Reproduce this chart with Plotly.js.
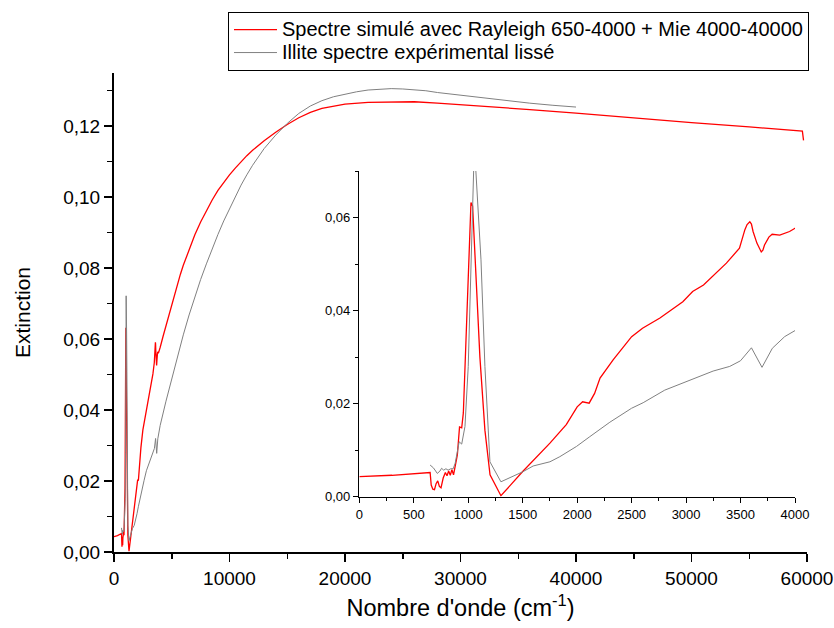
<!DOCTYPE html>
<html>
<head>
<meta charset="utf-8">
<script src="https://cdn.plot.ly/plotly-3.0.1.min.js"></script>
<style>html,body{margin:0;padding:0;background:#fff;}#chart{width:834px;height:628px;}</style>
</head>
<body>
<div id="chart"></div>
<script>
// Simulated spectrum (red)
const simX = [0, 300, 650, 660, 675, 690, 705, 720, 735, 750, 770, 790, 805, 820, 835, 850, 865, 880, 900, 920, 940, 955, 970, 985, 1000, 1015, 1025, 1040, 1060, 1077, 1107, 1153, 1200, 1300, 1500, 1750, 1900, 2000, 2050, 2110, 2160, 2210, 2330, 2500, 2600, 2760, 2970, 3060, 3160, 3370, 3490, 3540, 3560, 3585, 3600, 3615, 3650, 3690, 3705, 3720, 3760, 3790, 3860, 3950, 4000,
  4250, 4500, 4750, 5000, 5250, 5500, 5750, 6000, 6500, 7000, 7500, 8000, 8500, 9000, 9500, 10000, 10500, 11000, 11500, 12000, 13000, 14000, 15000, 16000, 17000, 18000, 19000, 20000, 22000, 24000, 26000, 28000, 30000, 33000, 36000, 40000, 45000, 50000, 55000, 59600, 59700];
const simY = [0.0043, 0.0046, 0.0052, 0.0025, 0.0016, 0.0015, 0.0028, 0.0034, 0.0022, 0.0019, 0.0040, 0.0052, 0.0045, 0.0055, 0.0046, 0.0058, 0.0047, 0.0065, 0.0090, 0.0150, 0.0148, 0.0180, 0.0280, 0.0380, 0.0500, 0.0600, 0.0632, 0.0625, 0.0520, 0.0437, 0.0300, 0.0143, 0.0047, 0.0002, 0.0054, 0.0115, 0.0155, 0.0193, 0.0204, 0.0201, 0.0222, 0.0255, 0.0294, 0.0344, 0.0362, 0.0384, 0.0419, 0.0441, 0.0455, 0.0502, 0.0534, 0.0574, 0.0585, 0.0591, 0.0586, 0.0570, 0.0545, 0.0526, 0.0530, 0.0541, 0.0558, 0.0564, 0.0562, 0.0570, 0.0577,
  0.0608, 0.0638, 0.0668, 0.0698, 0.0728, 0.0756, 0.0783, 0.0808, 0.0854, 0.0894, 0.0930, 0.0963, 0.0992, 0.1019, 0.1042, 0.1063, 0.1082, 0.1100, 0.1117, 0.1132, 0.1159, 0.1183, 0.1205, 0.1224, 0.1239, 0.1250, 0.1257, 0.1262, 0.1267, 0.1269, 0.1269, 0.1265, 0.1261, 0.1254, 0.1247, 0.1237, 0.1223, 0.1210, 0.1198, 0.1186, 0.1160];

// Experimental smoothed illite spectrum (grey)
const expX = [650, 680, 716, 740, 755, 775, 795, 815, 840, 862, 880, 893, 917, 940, 970, 1000, 1031, 1052, 1070, 1092, 1117, 1153, 1199, 1300, 1505, 1596, 1750, 1841, 1994, 2116, 2300, 2499, 2606, 2804, 3003, 3248, 3401, 3499, 3600, 3697, 3792, 3905, 4000,
  4500, 5000, 5500, 6000, 6500, 7000, 7500, 8000, 8500, 9000, 9500, 10000, 10500, 11000, 11500, 12000, 13000, 14000, 15000, 16000, 17000, 18000, 19000, 20000, 21000, 22000, 23000, 24000, 25000, 26000, 27000, 28000, 30000, 32000, 34000, 36000, 38000, 40000];
const expY = [0.0068, 0.0062, 0.0050, 0.0055, 0.0061, 0.0057, 0.0060, 0.0057, 0.0060, 0.0060, 0.0072, 0.0086, 0.0118, 0.0113, 0.0151, 0.0280, 0.0545, 0.0722, 0.0700, 0.0617, 0.0509, 0.0280, 0.0075, 0.0032, 0.0054, 0.0066, 0.0075, 0.0086, 0.0108, 0.0129, 0.0160, 0.0190, 0.0202, 0.0229, 0.0247, 0.0270, 0.0280, 0.0292, 0.0320, 0.0278, 0.0319, 0.0344, 0.0357,
  0.0425, 0.0490, 0.0553, 0.0612, 0.0668, 0.0720, 0.0768, 0.0812, 0.0855, 0.0895, 0.0933, 0.0968, 0.1002, 0.1034, 0.1063, 0.1090, 0.1137, 0.1175, 0.1208, 0.1236, 0.1257, 0.1272, 0.1283, 0.1291, 0.1297, 0.1302, 0.1305, 0.1306, 0.1305, 0.1303, 0.1300, 0.1295, 0.1287, 0.1280, 0.1272, 0.1265, 0.1259, 0.1254];

const simName = "Spectre simulé avec Rayleigh 650-4000 + Mie 4000-40000";
const expName = "Illite spectre expérimental lissé";
const xTitle = "Nombre d'onde (cm<sup>-1</sup>)";
const yTitle = "Extinction";

const FONT = "'Liberation Sans', Arial, sans-serif";
const RED = "#ff0000", GREY = "#808080";
const legendLabel = (s) => '<span style="font-size:20px">' + s + '</span>';

const redLine = {color: RED, width: 1.3};
const greyLine = {color: GREY, width: 1};

const traces = [
  {x: simX, y: simY, name: legendLabel(simName), mode: "lines", line: redLine, xaxis: "x", yaxis: "y"},
  {x: expX, y: expY, name: legendLabel(expName), mode: "lines", line: greyLine, xaxis: "x", yaxis: "y"},
  {x: simX, y: simY, showlegend: false, mode: "lines", line: redLine, xaxis: "x2", yaxis: "y2"},
  {x: expX, y: expY, showlegend: false, mode: "lines", line: greyLine, xaxis: "x2", yaxis: "y2"}
];

const mainAxis = {
  showline: true, linecolor: "#000", linewidth: 2, showgrid: false, zeroline: false,
  ticks: "outside", ticklen: 8, tickwidth: 1.5, tickcolor: "#000",
  tickfont: {family: FONT, size: 19, color: "#000"}
};
const insetAxis = {
  showline: true, linecolor: "#000", linewidth: 1.5, showgrid: false, zeroline: false,
  ticks: "outside", ticklen: 5, tickwidth: 1, tickcolor: "#000",
  tickfont: {family: FONT, size: 13, color: "#000"}
};

const layout = {
  width: 834, height: 628,
  margin: {l: 114, r: 27, t: 73, b: 76},
  paper_bgcolor: "#fff", plot_bgcolor: "rgba(0,0,0,0)",
  separators: ", ",
  font: {family: FONT, color: "#000"},
  showlegend: true,
  legend: {x: 0.1645, y: 1.1273, xanchor: "left", yanchor: "top", bgcolor: "#fff", itemwidth: 43,
    bordercolor: "#000", borderwidth: 1, font: {family: FONT, size: 15.4, color: "#000"}, tracegroupgap: 0},
  xaxis: Object.assign({}, mainAxis, {range: [0, 60000], domain: [0, 1], anchor: "y", tick0: 0, dtick: 10000, tickformat: "d",
    minor: {dtick: 5000, ticks: "outside", ticklen: 5, tickwidth: 1.5, tickcolor: "#000", showgrid: false},
    title: {text: xTitle, font: {family: FONT, size: 23.5, color: "#000"}, standoff: 12}}),
  yaxis: Object.assign({}, mainAxis, {range: [0, 0.135], domain: [0, 1], anchor: "x", tick0: 0, dtick: 0.02, tickformat: ".2f",
    minor: {dtick: 0.01, ticks: "outside", ticklen: 5, tickwidth: 1.5, tickcolor: "#000", showgrid: false},
    title: {text: yTitle, font: {family: FONT, size: 21, color: "#000"}, standoff: 27}}),
  xaxis2: Object.assign({}, insetAxis, {range: [0, 4000], domain: [0.354, 0.9827], anchor: "y2", tick0: 0, dtick: 500, tickformat: "d",
    minor: {dtick: 250, ticks: "outside", ticklen: 3, tickwidth: 1, tickcolor: "#000", showgrid: false}}),
  yaxis2: Object.assign({}, insetAxis, {range: [0, 0.07], domain: [0.1155, 0.7954], anchor: "x2", tick0: 0, dtick: 0.02, tickformat: ".2f",
    minor: {dtick: 0.01, ticks: "outside", ticklen: 3, tickwidth: 1, tickcolor: "#000", showgrid: false}})
};

Plotly.newPlot("chart", traces, layout, {displayModeBar: false, staticPlot: true});
</script>
</body>
</html>
